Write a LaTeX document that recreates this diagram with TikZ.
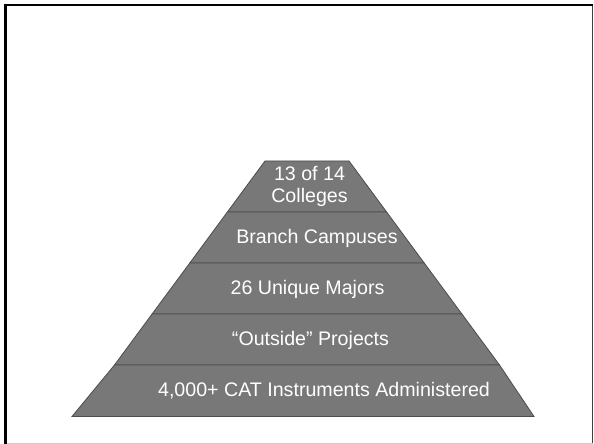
\documentclass[tikz,border=0pt]{standalone}
\usepackage{fontspec}
\setmainfont{Liberation Sans}
\begin{document}
\begin{tikzpicture}[x=1bp,y=-1bp,
  layer/.style={fill=black!53,draw=black!70,line width=0.8bp},
  lbl/.style={text=white,font=\fontsize{19.7}{22}\selectfont,inner sep=0pt,align=center}]
\useasboundingbox (0,0) rectangle (594,444);
\fill[white] (0,0) rectangle (594,444);
% slide frame
\draw[black!75,line width=1.2bp] (592.6,5) -- (592.6,443.5);
\draw[black!20,line width=1.2bp] (5,443.4) -- (593,443.4);
\draw[black,line width=2.6bp] (5.6,443.5) -- (5.6,5.2) -- (592.5,5.2);
% pyramid layers
\path[layer] (265,161) -- (349,161) -- (386.6,212) -- (227.4,212) -- cycle;
\path[layer] (227.4,212) -- (386.6,212) -- (424.2,263) -- (189.8,263) -- cycle;
\path[layer] (189.8,263) -- (424.2,263) -- (461.9,314) -- (152.1,314) -- cycle;
\path[layer] (152.1,314) -- (461.9,314) -- (499.5,365) -- (114.5,365) -- cycle;
\path[layer] (114.5,365) -- (499.5,365) -- (534,416.5) -- (72,416.5) -- cycle;
% labels
\node[lbl] (l1) at (309.5,186.5) {13 of 14\\Colleges};
\node[lbl] (l2) at (317,238) {Branch Campuses};
\node[lbl] (l3) at (307.5,289) {26 Unique Majors};
\node[lbl] (l4) at (310.5,340) {“Outside” Projects};
\node[lbl] (l5) at (324,391) {4,000+ CAT Instruments Administered};
\end{tikzpicture}
\end{document}
